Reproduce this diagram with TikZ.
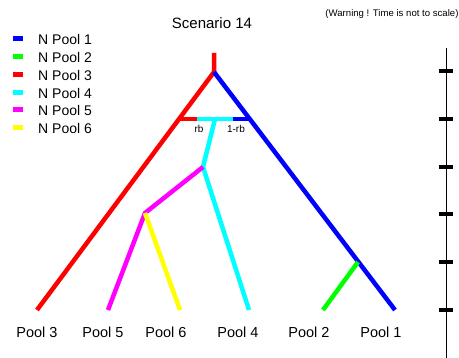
\documentclass[tikz,border=0pt]{standalone}
\usepackage{fontspec}
\setmainfont{Liberation Sans}
\definecolor{cblue}{RGB}{0,0,255}
\definecolor{cgreen}{RGB}{0,255,0}
\definecolor{cred}{RGB}{255,0,0}
\definecolor{ccyan}{RGB}{0,255,255}
\definecolor{cmag}{RGB}{255,0,255}
\definecolor{cyel}{RGB}{255,255,0}
\begin{document}
\begin{tikzpicture}[x=1pt,y=-1pt,
  branch/.style={line width=4.5pt},
  leg/.style={anchor=west,font=\fontsize{14}{16}\selectfont,inner sep=0pt},
  poollab/.style={font=\fontsize{14.5}{16}\selectfont,inner sep=0pt},
  smalllab/.style={font=\fontsize{10}{12}\selectfont,inner sep=0pt},
  tick/.style={line width=4pt}]
\useasboundingbox (0,0) rectangle (459,358);
% coordinates
\coordinate (top) at (214,53);
\coordinate (root) at (214,72);
\coordinate (p3) at (37,310);
\coordinate (p1) at (395,310);
\coordinate (ar) at (180,119);
\coordinate (ab) at (249,119);
\coordinate (ac) at (215,119);
\coordinate (rc) at (197,119);
\coordinate (bc) at (233,119);
\coordinate (n4) at (203,167);
\coordinate (p4) at (249,310);
\coordinate (n5) at (145,213);
\coordinate (p5) at (108,310);
\coordinate (p6) at (180,310);
\coordinate (n2) at (358,262);
\coordinate (p2) at (323,310);
% tree
\draw[branch,cred] (top) -- (root) -- (p3);
\draw[branch,cblue] (root) -- (p1);
\draw[branch,cred] (ar) -- (rc);
\draw[branch,ccyan] (rc) -- (bc);
\draw[branch,cblue] (bc) -- (ab);
\draw[branch,ccyan] (ac) -- (n4) -- (p4);
\draw[branch,cmag] (n4) -- (n5) -- (p5);
\draw[branch,cyel] (n5) -- (p6);
\draw[branch,cgreen] (n2) -- (p2);
% labels
\node[smalllab] (rb) at (199,129) {rb};
\node[smalllab] (orb) at (236,129) {1-rb};
\node[poollab] (l3) at (37,332) {Pool 3};
\node[poollab] (l5) at (103,332) {Pool 5};
\node[poollab] (l6) at (166,332) {Pool 6};
\node[poollab] (l4) at (238,332) {Pool 4};
\node[poollab] (l2) at (309,332) {Pool 2};
\node[poollab] (l1) at (381,332) {Pool 1};
\node[font=\fontsize{15}{17}\selectfont,inner sep=0pt] (title) at (212,23) {Scenario 14};
\node[inner sep=0pt] (warn) at (392,14) {\resizebox{133pt}{!}{\fontsize{10}{12}\selectfont (Warning ! Time is not to scale)}};
% legend
\foreach \c/\y/\n in {cblue/39/1,cgreen/57/2,cred/75/3,ccyan/93/4,cmag/110/5,cyel/128/6}{
  \fill[\c] (13,\y-2.5) rectangle (23,\y+2.5);
  \node[leg] (leg\n) at (38,\y) {N Pool \n};
}
% time axis
\coordinate (ax0) at (446,48);
\coordinate (ax1) at (446,358);
\draw[line width=1pt] (ax0) -- (ax1);
\foreach \y in {71,119,167,214,262,310}{
  \draw[tick] (439,\y) -- (453,\y);
}
\end{tikzpicture}
\end{document}
